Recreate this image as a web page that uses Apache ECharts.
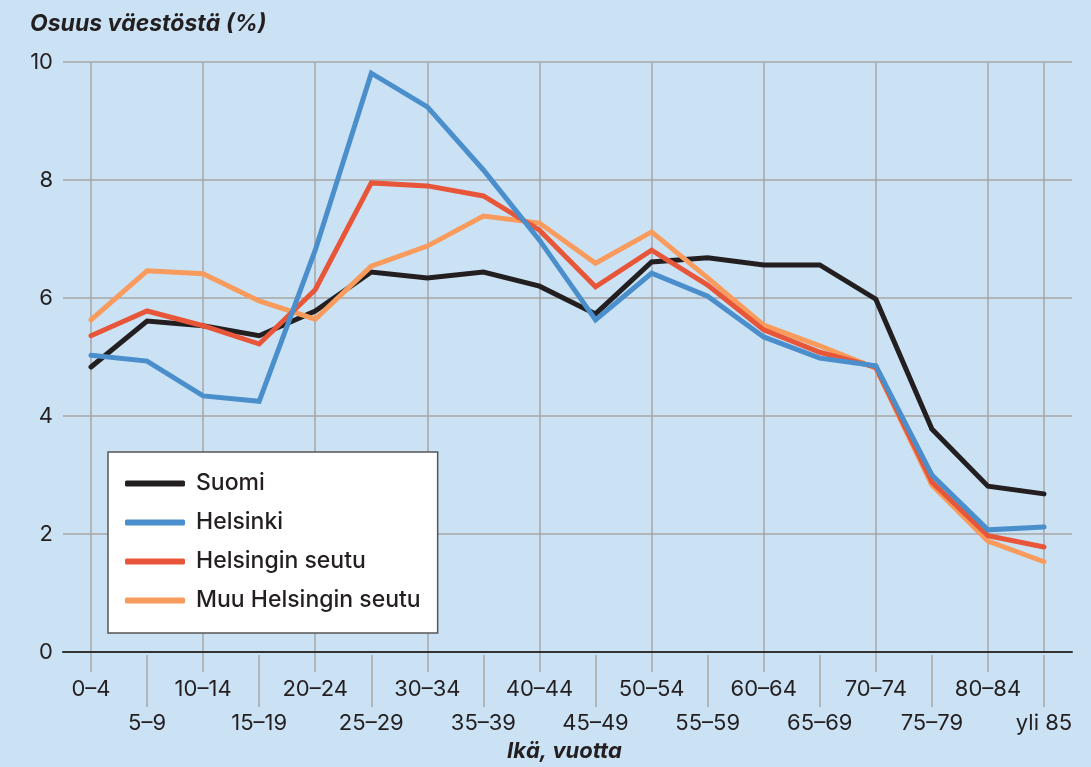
<!DOCTYPE html>
<html>
<head>
<meta charset="utf-8">
<script src="https://cdn.jsdelivr.net/npm/echarts@6/dist/echarts.min.js"></script>
<style>
  html, body { margin: 0; padding: 0; background: #cbe2f4; }
  #main { width: 1091px; height: 767px; }
</style>
</head>
<body>
<div id="main"></div>
<script>
// ikäryhmät
var ageGroups = ['0–4', '5–9', '10–14', '15–19', '20–24', '25–29', '30–34', '35–39', '40–44',
    '45–49', '50–54', '55–59', '60–64', '65–69', '70–74', '75–79', '80–84', 'yli 85'];

// osuus väestöstä (%)
var suomi = [4.83, 5.61, 5.53, 5.36, 5.78, 6.44, 6.34, 6.44, 6.20, 5.73, 6.61, 6.68, 6.56, 6.56, 5.98, 3.78, 2.81, 2.68];
var helsinki = [5.03, 4.93, 4.34, 4.25, 6.81, 9.81, 9.24, 8.17, 6.98, 5.63, 6.42, 6.03, 5.34, 4.98, 4.85, 3.00, 2.07, 2.12];
var helsinginSeutu = [5.36, 5.78, 5.53, 5.22, 6.14, 7.95, 7.90, 7.73, 7.15, 6.19, 6.81, 6.22, 5.46, 5.08, 4.83, 2.88, 1.97, 1.78];
var muuSeutu = [5.63, 6.46, 6.41, 5.95, 5.64, 6.54, 6.88, 7.39, 7.27, 6.59, 7.12, 6.34, 5.54, 5.19, 4.81, 2.83, 1.88, 1.53];

var yTicks = [0, 2, 4, 6, 8, 10];

var FONT = 'Inter';
var gridColor = '#a6a6a6';
var textColor = '#231f20';

var myChart = echarts.init(document.getElementById('main'));

function isEven(i) { return i % 2 === 0; }
function isOdd(i) { return i % 2 === 1; }

// pystyviivat: joka toinen ikäryhmä + viimeinen
var vLines = [];
for (var i = 0; i < ageGroups.length; i++) {
    if (isEven(i) || i === ageGroups.length - 1) {
        vLines.push({ xAxis: ageGroups[i] });
    }
}

function lineSeries(name, data, color, z) {
    return {
        name: name,
        type: 'line',
        xAxisIndex: 1,
        yAxisIndex: 1,
        data: data,
        symbol: 'none',
        z: z,
        lineStyle: { color: color, width: 5, cap: 'round', join: 'miter' },
        itemStyle: { color: color }
    };
}

var option = {
    backgroundColor: '#cbe2f4',
    animation: false,
    textStyle: { fontFamily: FONT },
    graphic: [
        {
            type: 'text', left: 30, top: 13,
            style: { text: 'Osuus väestöstä (%)', font: 'italic bold 23px ' + FONT, fill: textColor }
        },
        {
            type: 'text', left: 507, top: 740,
            style: { text: 'Ikä, vuotta', font: 'italic bold 22px ' + FONT, fill: textColor }
        }
    ],
    legend: {
        orient: 'vertical',
        left: 108,
        top: 452,
        z: 20,
        data: ['Suomi', 'Helsinki', 'Helsingin seutu', 'Muu Helsingin seutu'],
        icon: 'roundRect',
        itemWidth: 60,
        itemHeight: 6,
        itemGap: 16,
        padding: [20, 17, 21, 17],
        backgroundColor: '#ffffff',
        borderColor: '#555555',
        borderWidth: 1.5,
        borderRadius: 0,
        textStyle: { fontFamily: FONT, fontSize: 23, fontWeight: 500, color: textColor, padding: [0, 0, 0, 6] }
    },
    grid: [
        { left: 63, right: 19, top: 62, bottom: 115 },
        { left: 91, right: 47, top: 62, bottom: 115 }
    ],
    xAxis: [
        {
            type: 'value', gridIndex: 0, min: 0, max: 1,
            axisLine: { show: true, lineStyle: { color: '#333333', width: 2 } },
            axisTick: { show: false }, axisLabel: { show: false }, splitLine: { show: false },
            z: 5
        },
        {
            type: 'category', gridIndex: 1, position: 'bottom',
            data: ageGroups, boundaryGap: false,
            axisLine: { show: false },
            axisTick: { show: true, length: 20, interval: function (i) { return isEven(i); }, lineStyle: { color: gridColor, width: 1.5 } },
            axisLabel: {
                interval: function (i) { return isEven(i); },
                margin: 26, fontSize: 22, color: textColor, fontFamily: FONT
            },
            splitLine: { show: false }
        },
        {
            type: 'category', gridIndex: 1, position: 'bottom', offset: 3,
            data: ageGroups, boundaryGap: false,
            axisLine: { show: false },
            axisTick: { show: true, length: 52, interval: function (i) { return isOdd(i); }, lineStyle: { color: gridColor, width: 1.5 } },
            axisLabel: {
                interval: function (i) { return isOdd(i); },
                margin: 57, fontSize: 22, color: textColor, fontFamily: FONT
            },
            splitLine: { show: false }
        }
    ],
    yAxis: [
        {
            type: 'value', gridIndex: 0, min: yTicks[0], max: yTicks[yTicks.length - 1], interval: 2,
            axisLine: { show: false }, axisTick: { show: false },
            axisLabel: { margin: 10, fontSize: 22, color: textColor, fontFamily: FONT },
            splitLine: { show: true, lineStyle: { color: gridColor, width: 1.5 } }
        },
        {
            type: 'value', gridIndex: 1, min: yTicks[0], max: yTicks[yTicks.length - 1], interval: 2,
            axisLine: { show: false }, axisTick: { show: false },
            axisLabel: { show: false }, splitLine: { show: false }
        }
    ],
    series: [
        {
            // pystysuorat apuviivat
            type: 'line', xAxisIndex: 1, yAxisIndex: 1, data: [], z: 1, silent: true,
            markLine: {
                silent: true, symbol: 'none', label: { show: false }, z: 1,
                lineStyle: { color: gridColor, width: 1.5, type: 'solid' },
                data: vLines
            }
        },
        lineSeries('Suomi', suomi, '#231f20', 3),
        lineSeries('Helsinki', helsinki, '#4a8fcb', 6),
        lineSeries('Helsingin seutu', helsinginSeutu, '#e8563a', 5),
        lineSeries('Muu Helsingin seutu', muuSeutu, '#f89b5c', 4)
    ]
};

myChart.setOption(option);
</script>
</body>
</html>
